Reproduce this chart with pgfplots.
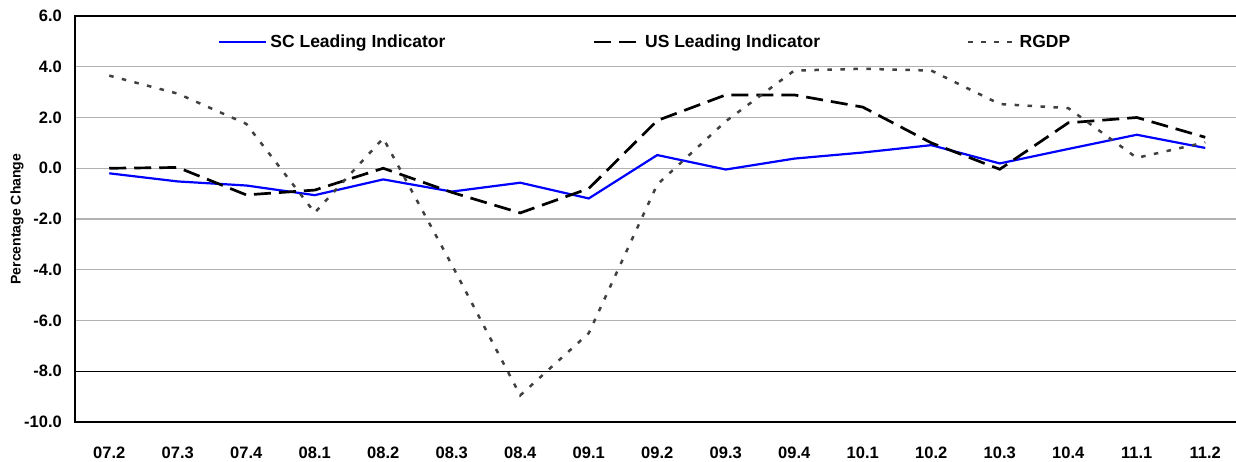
\documentclass[border=0pt]{standalone}
\usepackage{pgfplots}
\pgfplotsset{compat=1.18}
\usepackage{fontspec}
\setmainfont{Liberation Sans}
\definecolor{gridgray}{RGB}{178,178,178}
\definecolor{scblue}{RGB}{0,0,255}
\definecolor{rgdpgray}{RGB}{64,64,64}
\begin{document}
\begin{tikzpicture}
\begin{axis}[
  at={(75pt,39pt)}, anchor=south west,
  scale only axis, width=1164.5pt, height=406pt,
  xmin=-0.5, xmax=16.5, ymin=-10, ymax=6,
  axis line style={black, line width=1.3pt},
  xtick={0,...,16},
  xticklabels={07.2,07.3,07.4,08.1,08.2,08.3,08.4,09.1,09.2,09.3,09.4,10.1,10.2,10.3,10.4,11.1,11.2},
  ytick={-10,-8,...,6},
  yticklabels={-10.0,-8.0,-6.0,-4.0,-2.0,0.0,2.0,4.0,6.0},
  major tick length=0pt,
  ymajorgrids,
  grid style={gridgray, line width=1.3pt},
  extra y ticks={-8},
  extra y tick labels={},
  extra y tick style={grid style={black, line width=1.3pt}},
  tick label style={font=\bfseries\fontsize{16.5}{19}\selectfont, inner sep=0pt},
  yticklabel style={anchor=east, xshift=-13pt},
  xticklabel style={anchor=north, yshift=-25pt},
  ylabel={Percentage Change},
  every axis y label/.style={at={(axis description cs:-0.0498,0.5)}, rotate=90, anchor=center, font=\bfseries\fontsize{14}{16}\selectfont},
  legend columns=3,
  legend style={at={(axis description cs:0.1228,0.936)}, anchor=west, draw=none, fill=none, inner sep=0pt,
    font=\bfseries\fontsize{17.5}{20}\selectfont,
    /tikz/every odd column/.append style={column sep=1pt},
    /tikz/every even column/.append style={column sep=145pt}},
  legend image code/.code={\draw[#1] (0pt,0pt) -- (47pt,0pt);},
]
\addplot[scblue, line width=2.2pt] coordinates {
(0,-0.20) (1,-0.52) (2,-0.68) (3,-1.06) (4,-0.44) (5,-0.92) (6,-0.57) (7,-1.19) (8,0.52) (9,-0.05) (10,0.38) (11,0.62) (12,0.91) (13,0.19) (14,0.76) (15,1.32) (16,0.80)};
\addlegendentry{SC Leading Indicator}
\addplot[black, line width=2.7pt, dash pattern=on 17pt off 8pt] coordinates {
(0,0.00) (1,0.03) (2,-1.05) (3,-0.86) (4,0.00) (5,-0.95) (6,-1.76) (7,-0.80) (8,1.88) (9,2.89) (10,2.89) (11,2.41) (12,1.00) (13,-0.04) (14,1.79) (15,2.00) (16,1.22)};
\addlegendentry{US Leading Indicator}
\addplot[rgdpgray, line width=2.5pt, dash pattern=on 4.5pt off 8.5pt] coordinates {
(0,3.65) (1,2.94) (2,1.75) (3,-1.75) (4,1.18) (5,-3.8) (6,-8.95) (7,-6.5) (8,-0.64) (9,1.85) (10,3.85) (11,3.92) (12,3.85) (13,2.53) (14,2.37) (15,0.41) (16,1.02)};
\addlegendentry{RGDP}
\end{axis}
\pgfresetboundingbox
\path[use as bounding box] (0,0) rectangle (1236pt,461pt);
\end{tikzpicture}
\end{document}
